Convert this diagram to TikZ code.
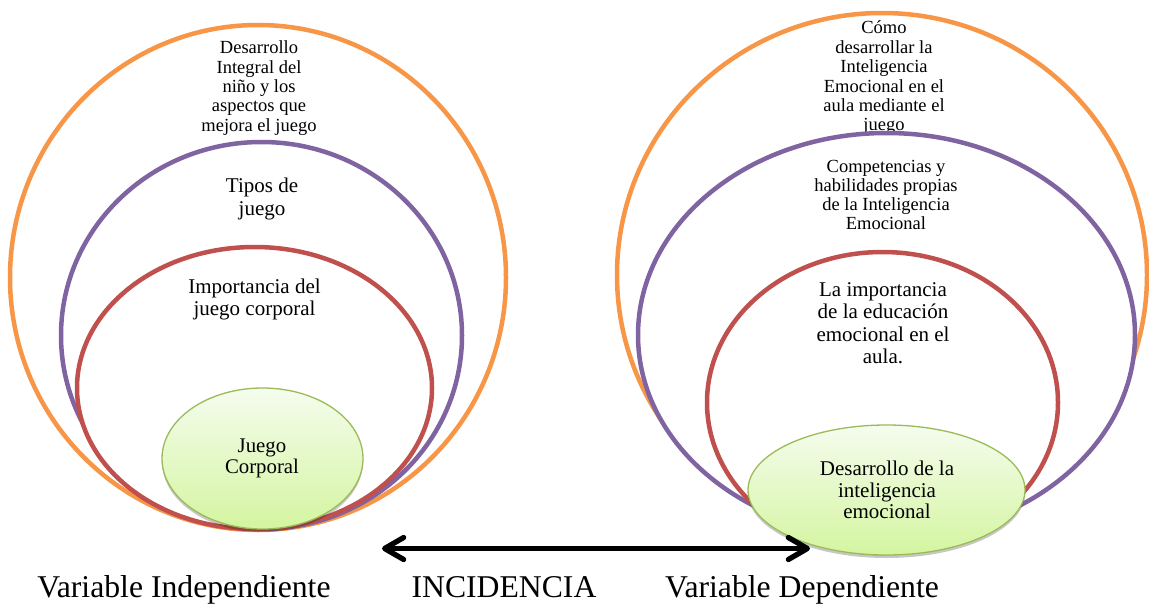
\documentclass[tikz,border=0pt]{standalone}
\usepackage{fontspec}
\setmainfont{Liberation Serif}
\usetikzlibrary{shapes.geometric,shadows,arrows.meta}
\definecolor{cOr}{HTML}{F79646}
\definecolor{cPu}{HTML}{8064A2}
\definecolor{cRe}{HTML}{C0504D}
\definecolor{cGr}{HTML}{9BBB59}
\definecolor{cGtop}{HTML}{F5FCEE}
\definecolor{cGbot}{HTML}{D4F5A0}
\begin{document}
\begin{tikzpicture}[x=1pt,y=-1pt,
  ring/.style={ellipse, draw, line width=4.5pt, fill=white, inner sep=0pt},
  core/.style={ellipse, draw=cGr, line width=1.3pt, inner sep=0pt,
    top color=cGtop, bottom color=cGbot,
    drop shadow={shadow xshift=0pt, shadow yshift=-3pt, opacity=0.22, fill=black}},
  smalltxt/.style={align=center, inner sep=0pt, font=\fontsize{18.5}{19.4}\selectfont},
  midtxt/.style={align=center, inner sep=0pt, font=\fontsize{21}{22.4}\selectfont},
  coretxt/.style={align=center, inner sep=0pt, font=\fontsize{20.8}{21.2}\selectfont},
  bigtxt/.style={anchor=base, inner sep=0pt, font=\fontsize{31.7}{34}\selectfont},
  arr/.style={line width=5.3pt, {Straight Barb[length=19pt,width=22pt,line cap=round,line join=round]}-{Straight Barb[length=19pt,width=22pt,line cap=round,line join=round]}}
]
\useasboundingbox (0,0) rectangle (1149,605);

% ---------- left target ----------
\node[ring, draw=cOr, minimum width=496pt, minimum height=505pt] (Lo) at (258,277.5) {};
\node[smalltxt] (LoT) at (259,88) {Desarrollo\\Integral del\\niño y los\\aspectos que\\mejora el juego};
\node[ring, draw=cPu, minimum width=401pt, minimum height=387pt] (Lp) at (261.5,335.5) {};
\node[midtxt] (LpT) at (262,199) {Tipos de\\juego};
\node[ring, draw=cRe, minimum width=355pt, minimum height=282pt] (Lr) at (254.5,388) {};
\node[midtxt] (LrT) at (254.5,299.7) {Importancia del\\juego corporal};
\node[core, minimum width=201pt, minimum height=141pt] (Lg) at (262.5,458.5) {};
\node[coretxt] (LgT) at (262,458.7) {Juego\\Corporal};

% ---------- right target ----------
\node[ring, draw=cOr, minimum width=530pt, minimum height=524pt] (Ro) at (882,275) {};
\node[smalltxt] (RoT) at (884,78) {Cómo\\desarrollar la\\Inteligencia\\Emocional en el\\aula mediante el\\juego};
\node[ring, draw=cPu, minimum width=497pt, minimum height=404pt] (Rp) at (886.5,335) {};
\node[smalltxt, font=\fontsize{18.5}{19}\selectfont] (RpT) at (886,195) {Competencias y\\habilidades propias\\de la Inteligencia\\Emocional};
\node[ring, draw=cRe, minimum width=351pt, minimum height=301pt] (Rr) at (882.5,402.5) {};
\node[midtxt] (RrT) at (883,323.3) {La importancia\\de la educación\\emocional en el\\aula.};
\node[core, minimum width=277pt, minimum height=130pt] (Rg) at (886.5,490) {};
\node[midtxt, font=\fontsize{21}{21.7}\selectfont] (RgT) at (887,490) {Desarrollo de la\\inteligencia\\emocional};

% ---------- arrow and labels ----------
\coordinate (aL) at (382,548.5);
\coordinate (aR) at (810,548.5);
\draw[arr] (aL) -- (aR);

\node[bigtxt] (VI) at (184,597) {Variable Independiente};
\node[bigtxt] (INC) at (504,597) {INCIDENCIA};
\node[bigtxt] (VD) at (802,597) {Variable Dependiente};
\end{tikzpicture}
\end{document}
